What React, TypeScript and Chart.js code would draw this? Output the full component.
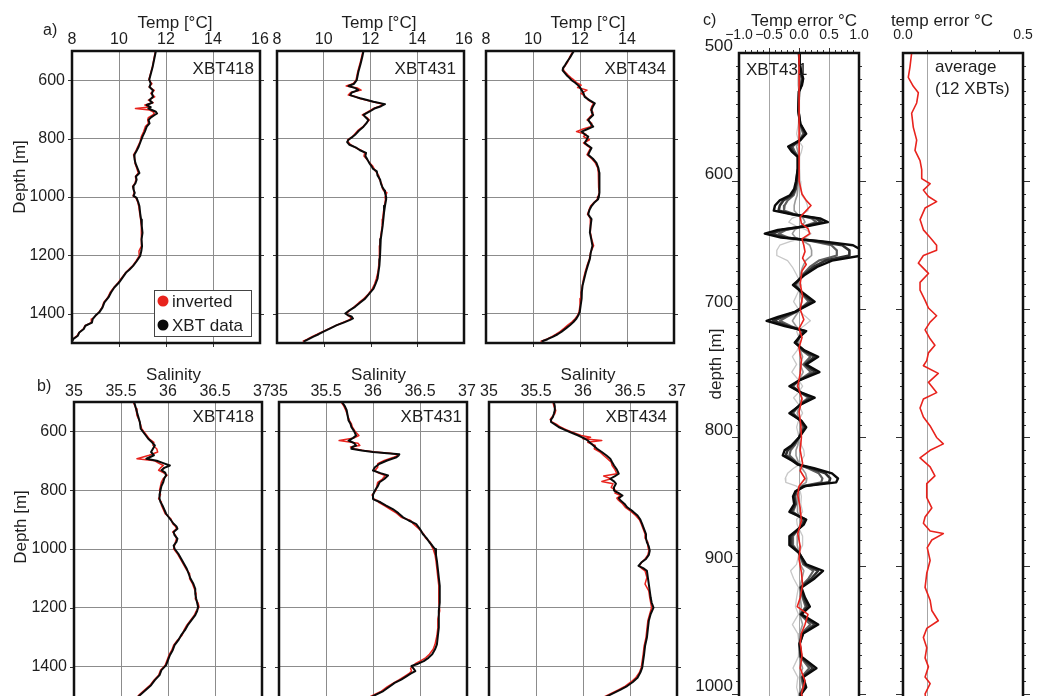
import React, { useEffect, useRef } from 'react';
import { Chart, registerables } from 'chart.js';

Chart.register(...registerables);

const FONT = '"Liberation Sans", Arial, Helvetica, sans-serif';
Chart.defaults.font.family = FONT;

const RED = '#e8231d';
const BLACK = '#0a0a0a';
const GRID = '#8c8c8c';
const GRID_C = '#a6a6a6';
const TEXT = '#1e1e1e';

// ---------------- tick values / labels ----------------
const tempTicks = [8, 10, 12, 14, 16];
const salTicks = [35, 35.5, 36, 36.5, 37];
const depthTicks = [600, 800, 1000, 1200, 1400];
const errTicks = [-1.0, -0.9, -0.8, -0.7, -0.6, -0.5, -0.4, -0.3, -0.2, -0.1, 0, 0.1, 0.2, 0.3, 0.4, 0.5, 0.6, 0.7, 0.8, 0.9, 1.0];
const errMajor = [-1.0, -0.5, 0, 0.5, 1.0];
const errLabels = ['−1.0', '−0.5', '0.0', '0.5', '1.0'];
const avgTicks = [0, 0.1, 0.2, 0.3, 0.4, 0.5];
const avgMajor = [0, 0.5];
const avgLabels = ['0.0', '0.5'];
const errDepthLabels = [500, 600, 700, 800, 900, 1000];
const errDepthTicks = [500, 510, 520, 530, 540, 550, 560, 570, 580, 590, 600, 610, 620, 630, 640, 650, 660, 670, 680, 690, 700, 710, 720, 730, 740, 750, 760, 770, 780, 790, 800, 810, 820, 830, 840, 850, 860, 870, 880, 890, 900, 910, 920, 930, 940, 950, 960, 970, 980, 990, 1000, 1010];

// ---------------- a) temperature profiles ----------------
const a1Depth = [500, 555, 598, 612, 623, 635, 645, 657, 668, 677, 685, 692, 697, 702, 708, 714, 720, 728, 736, 748, 759, 776, 793, 810, 827, 842, 856, 870, 884, 900, 918, 930, 941, 953, 964, 975, 986, 996, 1003, 1018, 1032, 1055, 1077, 1100, 1123, 1145, 1168, 1185, 1202, 1220, 1236, 1248, 1259, 1276, 1293, 1310, 1327, 1344, 1361, 1378, 1395, 1406, 1418, 1430, 1441, 1452, 1464, 1475, 1486, 1495];
const a1Xbt = [11.57, 11.43, 11.29, 11.35, 11.30, 11.45, 11.40, 11.45, 11.30, 11.42, 11.18, 11.35, 11.25, 11.40, 11.57, 11.62, 11.50, 11.35, 11.26, 11.30, 11.18, 11.10, 11.00, 10.92, 10.84, 10.75, 10.65, 10.66, 10.70, 10.78, 10.87, 10.72, 10.75, 10.70, 10.60, 10.62, 10.67, 10.62, 10.75, 10.82, 10.87, 10.90, 10.94, 10.97, 11.00, 10.96, 10.98, 10.95, 10.90, 10.75, 10.60, 10.45, 10.30, 10.15, 10.00, 9.80, 9.66, 9.55, 9.38, 9.30, 9.16, 9.00, 8.88, 8.85, 8.57, 8.50, 8.31, 8.25, 8.06, 8.00];
const a1Inv = [11.55, 11.42, 11.27, 11.40, 11.28, 11.50, 11.35, 11.52, 11.25, 11.45, 11.10, 11.30, 10.70, 11.30, 11.45, 11.50, 11.42, 11.25, 11.22, 11.25, 11.12, 11.05, 10.95, 10.90, 10.80, 10.72, 10.62, 10.68, 10.68, 10.75, 10.82, 10.70, 10.72, 10.68, 10.58, 10.63, 10.64, 10.60, 10.72, 10.80, 10.84, 10.88, 10.92, 10.95, 10.97, 10.94, 10.95, 10.85, 10.86, 10.72, 10.58, 10.42, 10.28, 10.12, 9.97, 9.78, 9.62, 9.52, 9.35, 9.28, 9.14, 9.02, 8.85, 8.82, 8.55, 8.48, 8.30, 8.22, 8.05, 7.98];

const a2Depth = [500, 520, 543, 572, 600, 612, 620, 627, 634, 642, 651, 657, 662, 668, 674, 682, 689, 696, 708, 719, 728, 736, 748, 759, 773, 787, 796, 804, 812, 821, 832, 840, 849, 860, 872, 884, 895, 903, 912, 926, 940, 955, 968, 978, 985, 1000, 1008, 1030, 1053, 1076, 1099, 1121, 1144, 1167, 1189, 1212, 1235, 1257, 1280, 1297, 1314, 1331, 1348, 1362, 1376, 1388, 1399, 1405, 1410, 1416, 1421, 1430, 1439, 1450, 1461, 1470, 1478, 1487, 1495];
const a2Xbt = [11.70, 11.65, 11.58, 11.48, 11.41, 11.30, 11.06, 11.35, 11.48, 11.20, 11.13, 11.35, 11.56, 11.85, 12.13, 12.62, 12.45, 12.20, 11.95, 11.70, 11.80, 11.91, 11.82, 11.70, 11.50, 11.34, 11.20, 11.06, 11.00, 11.10, 11.41, 11.55, 11.81, 11.78, 11.87, 11.95, 12.05, 12.10, 12.27, 12.30, 12.41, 12.45, 12.52, 12.60, 12.62, 12.67, 12.67, 12.62, 12.58, 12.55, 12.52, 12.48, 12.44, 12.42, 12.41, 12.40, 12.38, 12.34, 12.30, 12.22, 12.13, 11.95, 11.77, 11.55, 11.34, 11.10, 10.92, 11.05, 11.20, 11.25, 11.13, 10.85, 10.56, 10.28, 9.99, 9.78, 9.56, 9.35, 9.14];
const a2Inv = [11.68, 11.62, 11.55, 11.45, 11.38, 11.25, 10.96, 11.45, 11.60, 11.15, 11.05, 11.40, 11.50, 11.80, 12.10, 12.55, 12.40, 12.15, 11.90, 11.65, 11.85, 11.95, 11.80, 11.68, 11.45, 11.30, 11.18, 11.02, 11.05, 11.15, 11.38, 11.60, 11.75, 11.72, 11.85, 11.98, 12.10, 12.15, 12.22, 12.35, 12.38, 12.48, 12.50, 12.56, 12.70, 12.62, 12.64, 12.60, 12.55, 12.52, 12.50, 12.46, 12.42, 12.40, 12.38, 12.38, 12.35, 12.32, 12.25, 12.18, 12.08, 11.92, 11.72, 11.50, 11.30, 11.12, 10.98, 11.02, 11.12, 11.18, 11.08, 10.82, 10.55, 10.25, 9.95, 9.72, 9.50, 9.30, 9.10];

const a3Depth = [500, 512, 523, 537, 549, 558, 566, 575, 583, 592, 600, 608, 617, 625, 634, 645, 657, 668, 679, 690, 702, 710, 719, 728, 736, 748, 759, 768, 776, 785, 793, 804, 815, 824, 832, 843, 855, 869, 883, 900, 917, 934, 951, 968, 985, 1000, 1008, 1020, 1031, 1045, 1059, 1068, 1076, 1100, 1121, 1145, 1167, 1190, 1212, 1235, 1257, 1280, 1303, 1325, 1348, 1370, 1393, 1405, 1416, 1428, 1439, 1450, 1461, 1470, 1478, 1487, 1495];
const a3Xbt = [11.74, 11.65, 11.57, 11.45, 11.36, 11.28, 11.26, 11.35, 11.43, 11.55, 11.64, 11.78, 11.92, 12.00, 12.07, 12.15, 12.20, 12.40, 12.63, 12.55, 12.49, 12.50, 12.56, 12.45, 12.35, 12.45, 12.56, 12.30, 12.07, 12.20, 12.35, 12.28, 12.20, 12.35, 12.49, 12.42, 12.35, 12.55, 12.70, 12.78, 12.82, 12.82, 12.82, 12.83, 12.84, 12.80, 12.77, 12.60, 12.49, 12.40, 12.35, 12.42, 12.49, 12.45, 12.42, 12.48, 12.53, 12.46, 12.42, 12.33, 12.25, 12.18, 12.11, 12.08, 12.07, 12.03, 11.99, 11.93, 11.85, 11.72, 11.57, 11.40, 11.22, 11.05, 10.86, 10.62, 10.37];
const a3Inv = [11.72, 11.62, 11.55, 11.48, 11.38, 11.30, 11.30, 11.40, 11.50, 11.62, 11.75, 11.85, 12.05, 11.90, 12.30, 12.05, 12.25, 12.35, 12.58, 12.50, 12.45, 12.55, 12.50, 12.40, 12.30, 12.50, 12.45, 12.10, 11.85, 12.25, 12.15, 12.40, 12.15, 12.30, 12.45, 12.38, 12.30, 12.50, 12.65, 12.75, 12.78, 12.80, 12.78, 12.80, 12.82, 12.76, 12.74, 12.58, 12.45, 12.38, 12.32, 12.40, 12.46, 12.43, 12.45, 12.50, 12.58, 12.45, 12.40, 12.30, 12.22, 12.15, 12.10, 12.05, 12.04, 12.00, 11.96, 11.90, 11.80, 11.65, 11.48, 11.32, 11.15, 10.98, 10.80, 10.58, 10.32];

// ---------------- b) salinity profiles ----------------
const b1Depth = [500, 523, 546, 568, 591, 608, 625, 637, 648, 659, 670, 681, 693, 700, 708, 716, 724, 732, 740, 749, 760, 772, 786, 800, 815, 829, 840, 851, 865, 880, 897, 914, 923, 931, 942, 953, 965, 976, 988, 999, 1016, 1033, 1050, 1067, 1084, 1101, 1118, 1135, 1152, 1169, 1183, 1197, 1211, 1225, 1242, 1259, 1276, 1293, 1310, 1327, 1344, 1361, 1378, 1395, 1412, 1429, 1446, 1463, 1480, 1497, 1510];
const b1Xbt = [35.64, 35.66, 35.68, 35.70, 35.71, 35.75, 35.79, 35.83, 35.86, 35.84, 35.82, 35.85, 35.77, 35.88, 35.95, 36.02, 35.96, 35.93, 35.97, 35.98, 35.96, 35.95, 35.93, 35.92, 35.91, 35.91, 35.92, 35.94, 35.96, 35.98, 36.02, 36.06, 36.09, 36.10, 36.06, 36.07, 36.10, 36.09, 36.06, 36.07, 36.11, 36.14, 36.17, 36.20, 36.22, 36.24, 36.27, 36.29, 36.29, 36.30, 36.31, 36.32, 36.31, 36.29, 36.25, 36.21, 36.18, 36.14, 36.11, 36.07, 36.05, 36.02, 36.00, 35.98, 35.93, 35.91, 35.86, 35.82, 35.76, 35.70, 35.66];
const b1Inv = [35.63, 35.66, 35.67, 35.70, 35.72, 35.76, 35.80, 35.85, 35.84, 35.88, 35.89, 35.80, 35.67, 35.86, 35.90, 35.95, 35.92, 35.90, 35.95, 35.99, 35.95, 35.93, 35.92, 35.91, 35.92, 35.90, 35.93, 35.93, 35.95, 35.97, 36.03, 36.05, 36.08, 36.09, 36.05, 36.08, 36.09, 36.08, 36.07, 36.06, 36.10, 36.13, 36.16, 36.19, 36.23, 36.23, 36.26, 36.28, 36.30, 36.29, 36.32, 36.33, 36.30, 36.28, 36.24, 36.20, 36.17, 36.15, 36.10, 36.06, 36.04, 36.01, 35.99, 35.97, 35.92, 35.90, 35.85, 35.81, 35.75, 35.69, 35.65];

const b2Depth = [500, 514, 528, 546, 563, 574, 585, 600, 614, 622, 631, 640, 648, 653, 659, 665, 670, 674, 678, 683, 688, 699, 710, 722, 733, 742, 750, 762, 773, 787, 801, 816, 830, 836, 841, 852, 864, 878, 892, 903, 915, 932, 949, 963, 977, 988, 1000, 1020, 1040, 1068, 1097, 1125, 1153, 1182, 1210, 1238, 1267, 1295, 1324, 1341, 1358, 1370, 1381, 1390, 1398, 1406, 1415, 1424, 1432, 1444, 1455, 1469, 1483, 1500, 1510];
const b2Xbt = [35.67, 35.70, 35.72, 35.73, 35.74, 35.76, 35.77, 35.80, 35.82, 35.79, 35.74, 35.80, 35.82, 35.78, 35.77, 35.88, 36.00, 36.15, 36.28, 36.27, 36.25, 36.15, 36.07, 36.02, 36.00, 36.08, 36.16, 36.12, 36.07, 36.05, 36.02, 36.00, 36.00, 36.04, 36.08, 36.14, 36.21, 36.27, 36.32, 36.38, 36.46, 36.50, 36.53, 36.57, 36.60, 36.63, 36.66, 36.67, 36.68, 36.69, 36.70, 36.71, 36.71, 36.71, 36.70, 36.70, 36.70, 36.69, 36.68, 36.66, 36.63, 36.59, 36.54, 36.48, 36.41, 36.43, 36.45, 36.40, 36.36, 36.30, 36.23, 36.17, 36.11, 36.00, 35.95];
const b2Inv = [35.66, 35.69, 35.71, 35.73, 35.75, 35.77, 35.78, 35.81, 35.85, 35.80, 35.64, 35.84, 35.86, 35.76, 35.80, 35.90, 36.02, 36.18, 36.25, 36.26, 36.22, 36.12, 36.05, 36.05, 36.02, 36.06, 36.13, 36.10, 36.05, 36.04, 36.03, 35.99, 36.01, 36.05, 36.06, 36.12, 36.18, 36.25, 36.30, 36.40, 36.43, 36.49, 36.54, 36.56, 36.61, 36.62, 36.64, 36.66, 36.67, 36.68, 36.69, 36.70, 36.70, 36.70, 36.71, 36.69, 36.69, 36.68, 36.66, 36.64, 36.60, 36.56, 36.50, 36.45, 36.42, 36.40, 36.41, 36.38, 36.34, 36.28, 36.22, 36.15, 36.09, 35.98, 35.93];

const b3Depth = [500, 514, 528, 540, 551, 560, 568, 576, 585, 594, 602, 614, 620, 625, 631, 637, 648, 659, 670, 682, 693, 705, 716, 730, 744, 752, 761, 770, 778, 790, 801, 810, 818, 827, 835, 846, 858, 872, 886, 900, 915, 932, 949, 963, 977, 991, 1006, 1020, 1034, 1046, 1057, 1065, 1074, 1097, 1119, 1142, 1165, 1182, 1199, 1221, 1244, 1272, 1301, 1330, 1358, 1380, 1403, 1420, 1438, 1452, 1466, 1478, 1489, 1500, 1510];
const b3Xbt = [35.69, 35.70, 35.70, 35.69, 35.68, 35.66, 35.66, 35.70, 35.74, 35.80, 35.86, 35.95, 35.99, 36.02, 36.05, 36.07, 36.11, 36.15, 36.20, 36.25, 36.29, 36.31, 36.33, 36.36, 36.38, 36.34, 36.29, 36.33, 36.35, 36.33, 36.33, 36.38, 36.42, 36.38, 36.40, 36.44, 36.47, 36.53, 36.58, 36.61, 36.63, 36.65, 36.67, 36.67, 36.68, 36.70, 36.71, 36.70, 36.67, 36.62, 36.59, 36.64, 36.68, 36.69, 36.70, 36.71, 36.72, 36.73, 36.75, 36.72, 36.70, 36.69, 36.68, 36.66, 36.65, 36.64, 36.63, 36.61, 36.58, 36.53, 36.47, 36.40, 36.33, 36.26, 36.20];
const b3Inv = [35.68, 35.69, 35.71, 35.70, 35.67, 35.65, 35.67, 35.72, 35.76, 35.82, 35.88, 35.98, 36.08, 36.00, 36.20, 36.05, 36.13, 36.12, 36.18, 36.22, 36.26, 36.30, 36.31, 36.34, 36.36, 36.22, 36.30, 36.20, 36.32, 36.30, 36.35, 36.34, 36.40, 36.36, 36.38, 36.42, 36.45, 36.51, 36.56, 36.60, 36.62, 36.64, 36.66, 36.66, 36.69, 36.69, 36.70, 36.69, 36.66, 36.62, 36.60, 36.62, 36.66, 36.68, 36.66, 36.70, 36.71, 36.72, 36.73, 36.71, 36.69, 36.68, 36.67, 36.65, 36.64, 36.63, 36.62, 36.60, 36.56, 36.51, 36.45, 36.38, 36.31, 36.24, 36.18];

// ---------------- c) temperature error, XBT431 ensemble ----------------
const cDepth = [500, 508, 515, 520, 525, 530, 545, 555, 563, 568, 573, 577, 581, 590, 600, 606, 611, 615, 619, 623, 626, 629, 632, 635, 638, 641, 644, 647, 650, 654, 658, 662, 667, 673, 681, 688, 694, 702, 706, 709, 713, 717, 721, 726, 732, 737, 743, 749, 755, 760, 765, 769, 774, 781, 787, 792, 800, 806, 810, 814, 818, 821, 824, 828, 832, 835, 838, 842, 846, 852, 858, 864, 868, 871, 877, 884, 890, 899, 904, 910, 917, 925, 932, 938, 946, 953, 961, 971, 980, 987, 995, 1000, 1008, 1015];
const cBlack = [0.00, 0.01, 0.04, 0.07, 0.05, 0.00, -0.01, 0.02, 0.12, 0.02, -0.18, -0.12, -0.02, -0.02, -0.05, -0.08, -0.15, -0.32, -0.40, -0.42, -0.10, 0.35, 0.48, 0.15, -0.35, -0.57, -0.30, 0.40, 0.90, 1.05, 1.05, 0.55, 0.30, 0.10, -0.10, 0.09, 0.26, -0.07, -0.35, -0.54, -0.24, 0.12, 0.02, -0.07, 0.09, 0.32, 0.12, 0.34, 0.02, -0.16, 0.04, 0.26, 0.04, -0.16, 0.04, 0.12, 0.00, -0.12, -0.24, -0.27, -0.12, -0.02, 0.25, 0.55, 0.65, 0.62, 0.10, -0.06, -0.10, -0.08, -0.16, 0.12, 0.08, 0.00, -0.16, -0.16, 0.00, 0.12, 0.40, 0.26, 0.04, 0.10, 0.18, 0.04, 0.32, 0.07, 0.01, 0.04, 0.29, 0.07, 0.12, 0.04, 0.03, 0.02];
const cDark = [0, 0.01, 0.03, 0.06, 0.04, 0, -0.01, 0.02, 0.10, 0.02, -0.14, -0.10, -0.02, -0.02, -0.04, -0.06, -0.12, -0.26, -0.32, -0.34, -0.08, 0.28, 0.38, 0.12, -0.28, -0.46, -0.24, 0.32, 0.72, 0.84, 0.84, 0.44, 0.24, 0.08, -0.08, 0.07, 0.21, -0.06, -0.28, -0.43, -0.19, 0.10, 0.02, -0.06, 0.07, 0.26, 0.10, 0.27, 0.02, -0.13, 0.03, 0.21, 0.03, -0.13, 0.03, 0.10, 0, -0.10, -0.19, -0.22, -0.10, -0.02, 0.20, 0.44, 0.52, 0.50, 0.08, -0.05, -0.08, -0.06, -0.13, 0.10, 0.06, 0, -0.13, -0.13, 0, 0.10, 0.32, 0.21, 0.03, 0.08, 0.14, 0.03, 0.26, 0.06, 0.01, 0.03, 0.23, 0.06, 0.10, 0.03, 0.02, 0.02];
const cMid = [0, 0.01, 0.02, 0.04, 0.03, 0, -0.01, 0.01, 0.07, 0.01, -0.11, -0.07, -0.01, -0.01, -0.03, -0.05, -0.09, -0.19, -0.24, -0.25, -0.06, 0.21, 0.29, 0.09, -0.21, -0.34, -0.18, 0.24, 0.54, 0.63, 0.63, 0.33, 0.18, 0.06, -0.06, 0.05, 0.16, -0.04, -0.21, -0.32, -0.14, 0.07, 0.01, -0.04, 0.05, 0.19, 0.07, 0.20, 0.01, -0.10, 0.02, 0.16, 0.02, -0.10, 0.02, 0.07, 0, -0.07, -0.14, -0.16, -0.07, -0.01, 0.15, 0.33, 0.39, 0.37, 0.06, -0.04, -0.06, -0.05, -0.10, 0.07, 0.05, 0, -0.10, -0.10, 0, 0.07, 0.24, 0.16, 0.02, 0.06, 0.11, 0.02, 0.19, 0.04, 0.01, 0.02, 0.17, 0.04, 0.07, 0.02, 0.02, 0.01];
const cLight = [0, 0, 0.01, 0.01, 0.01, 0, 0, 0, 0.02, 0, -0.04, -0.02, 0, 0, -0.01, -0.02, -0.03, -0.06, -0.08, -0.08, -0.02, 0.07, 0.10, 0.03, -0.07, -0.11, -0.06, 0.08, 0.18, 0.21, 0.21, 0.11, 0.06, 0.02, -0.02, 0.02, 0.05, -0.01, -0.07, -0.11, -0.05, 0.02, 0, -0.01, 0.02, 0.06, 0.02, 0.07, 0, -0.03, 0.01, 0.05, 0.01, -0.03, 0.01, 0.02, 0, -0.02, -0.05, -0.05, -0.02, 0, 0.05, 0.11, 0.13, 0.12, 0.02, -0.01, -0.02, -0.02, -0.03, 0.02, 0.02, 0, -0.03, -0.03, 0, 0.02, 0.08, 0.05, 0.01, 0.02, 0.04, 0.01, 0.06, 0.01, 0, 0.01, 0.06, 0.01, 0.02, 0.01, 0.01, 0];
const cPale = [0, 0, -0.01, -0.02, -0.02, 0, 0, -0.01, -0.04, -0.01, 0.06, 0.04, 0.01, 0.01, 0.02, 0.03, 0.05, 0.11, 0.14, 0.15, 0.04, -0.12, -0.17, -0.05, 0.12, 0.20, 0.11, -0.14, -0.32, -0.37, -0.37, -0.19, -0.11, -0.04, 0.04, -0.03, -0.09, 0.02, 0.12, 0.19, 0.08, -0.04, -0.01, 0.02, -0.03, -0.11, -0.04, -0.12, -0.01, 0.06, -0.01, -0.09, -0.01, 0.06, -0.01, -0.04, 0, 0.04, 0.08, 0.09, 0.04, 0.01, -0.09, -0.19, -0.23, -0.22, -0.04, 0.02, 0.04, 0.03, 0.06, -0.04, -0.03, 0, 0.06, 0.06, 0, -0.04, -0.14, -0.09, -0.01, -0.04, -0.06, -0.01, -0.11, -0.02, 0, -0.01, -0.10, -0.02, -0.04, -0.01, -0.01, -0.01];
const cRedDepth = [500, 520, 540, 560, 580, 600, 610, 615, 619, 623, 628, 633, 637, 641, 645, 650, 655, 660, 665, 670, 680, 690, 700, 708, 715, 722, 730, 740, 750, 760, 770, 780, 790, 800, 810, 820, 826, 832, 838, 845, 855, 865, 875, 885, 895, 905, 915, 925, 932, 938, 946, 953, 960, 970, 980, 990, 1000, 1008, 1015];
const cRed = [0.00, 0.00, 0.01, 0.00, 0.00, 0.00, 0.05, 0.12, 0.20, 0.12, 0.02, 0.04, 0.15, 0.18, 0.05, 0.08, 0.10, 0.06, 0.12, 0.05, 0.02, 0.06, 0.02, 0.08, 0.00, 0.05, 0.00, 0.04, 0.02, -0.02, 0.05, 0.00, 0.03, 0.04, 0.02, 0.06, 0.02, 0.10, 0.00, -0.02, 0.02, 0.04, -0.02, 0.02, 0.00, 0.04, 0.06, 0.02, -0.03, 0.15, 0.10, 0.04, 0.02, 0.05, 0.02, 0.10, 0.04, 0.08, 0.05];

// ---------------- c) average temperature error (12 XBTs) ----------------
const c2Depth = [500, 511, 519, 526, 531, 539, 547, 558, 568, 576, 584, 591, 598, 602, 607, 612, 616, 621, 630, 638, 644, 650, 654, 658, 664, 672, 679, 685, 693, 699, 705, 710, 716, 723, 728, 734, 740, 744, 750, 757, 765, 770, 777, 784, 791, 800, 805, 810, 816, 823, 830, 836, 847, 855, 862, 867, 873, 875, 880, 886, 896, 906, 917, 927, 935, 943, 949, 956, 964, 972, 979, 987, 992, 1000, 1010];
const c2Avg = [0.036, 0.029, 0.022, 0.043, 0.064, 0.057, 0.036, 0.043, 0.057, 0.050, 0.071, 0.078, 0.078, 0.113, 0.085, 0.106, 0.140, 0.092, 0.071, 0.085, 0.113, 0.140, 0.140, 0.085, 0.064, 0.106, 0.071, 0.071, 0.092, 0.106, 0.140, 0.113, 0.092, 0.113, 0.133, 0.106, 0.099, 0.085, 0.147, 0.106, 0.140, 0.085, 0.071, 0.085, 0.113, 0.140, 0.168, 0.113, 0.071, 0.113, 0.133, 0.099, 0.099, 0.120, 0.092, 0.085, 0.113, 0.168, 0.120, 0.101, 0.113, 0.099, 0.092, 0.113, 0.120, 0.147, 0.099, 0.085, 0.099, 0.092, 0.106, 0.092, 0.113, 0.092, 0.100];

// ---------------- helpers ----------------
const near = (a: number, b: number) => Math.abs(a - b) < 1e-6;

function line(depth: number[], vals: number[], color: string, width: number, order: number) {
  return {
    data: depth.map((d, i) => ({ x: vals[i], y: d })),
    showLine: true,
    borderColor: color,
    backgroundColor: color,
    borderWidth: width,
    pointRadius: 0,
    pointHoverRadius: 0,
    tension: 0,
    borderJoinStyle: 'round',
    order,
  };
}

type TextItem = { t: string; x: number; y: number; size: number; align?: CanvasTextAlign; rot?: boolean };

type Spec = {
  id: string; ox: number; oy: number; w: number; h: number;
  axisW: number; axisH: number; padR: number; padB: number;
  xMin: number; xMax: number; xTicks: number[]; xLabel: (v: number) => string; xGrid: number[]; xFont: number; xPad: number;
  yMin: number; yMax: number; yTicks: number[]; yLabel: (v: number) => string; yGridShow: boolean; yFont: number; yPad: number; showY: boolean; yLabelOffset: number;
  gridColor: string;
  ext: { left: boolean; right: boolean; top: boolean; bottom: boolean; yLen: (v: number) => number; xLen: (v: number) => number };
  datasets: () => any[];
  texts: TextItem[];
  legend?: boolean;
};

function makeFrame(spec: Spec) {
  return {
    id: 'frame_' + spec.id,
    afterDatasetsDraw(chart: any) {
      const { ctx, chartArea: a } = chart;
      const xs = chart.scales.x;
      const ys = chart.scales.y;
      ctx.save();
      ctx.strokeStyle = '#333';
      ctx.lineWidth = 1;
      ctx.beginPath();
      ys.ticks.forEach((t: any) => {
        const v = t.value;
        if (v <= ys.min + 1e-9 || v >= ys.max - 1e-9) return;
        const p = Math.round(ys.getPixelForValue(v)) + 0.5;
        const L = spec.ext.yLen(v);
        if (spec.ext.left) { ctx.moveTo(a.left - L, p); ctx.lineTo(a.left, p); }
        if (spec.ext.right) { ctx.moveTo(a.right, p); ctx.lineTo(a.right + L, p); }
      });
      xs.ticks.forEach((t: any) => {
        const v = t.value;
        if (v <= xs.min + 1e-9 || v >= xs.max - 1e-9) return;
        const p = Math.round(xs.getPixelForValue(v)) + 0.5;
        const L = spec.ext.xLen(v);
        if (spec.ext.top) { ctx.moveTo(p, a.top - L); ctx.lineTo(p, a.top); }
        if (spec.ext.bottom) { ctx.moveTo(p, a.bottom); ctx.lineTo(p, a.bottom + L); }
      });
      ctx.stroke();
      ctx.lineWidth = 2.5;
      ctx.strokeStyle = '#111';
      ctx.strokeRect(a.left, a.top, a.right - a.left, a.bottom - a.top);

      if (spec.legend) {
        const bx = 154 - spec.ox, by = 290 - spec.oy;
        ctx.fillStyle = '#fff';
        ctx.fillRect(bx, by, 97, 46);
        ctx.lineWidth = 1;
        ctx.strokeStyle = '#444';
        ctx.strokeRect(bx + 0.5, by + 0.5, 97, 46);
        ctx.fillStyle = RED;
        ctx.beginPath(); ctx.arc(163 - spec.ox, 301 - spec.oy, 5.5, 0, Math.PI * 2); ctx.fill();
        ctx.fillStyle = BLACK;
        ctx.beginPath(); ctx.arc(163 - spec.ox, 325 - spec.oy, 5.5, 0, Math.PI * 2); ctx.fill();
        ctx.font = '17px ' + FONT;
        ctx.fillStyle = TEXT;
        ctx.textAlign = 'left';
        ctx.textBaseline = 'alphabetic';
        ctx.fillText('inverted', 172 - spec.ox, 307 - spec.oy);
        ctx.fillText('XBT data', 172 - spec.ox, 331 - spec.oy);
      }

      spec.texts.forEach((tx) => {
        ctx.font = tx.size + 'px ' + FONT;
        ctx.fillStyle = TEXT;
        if (tx.rot) {
          ctx.save();
          ctx.translate(tx.x - spec.ox, tx.y - spec.oy);
          ctx.rotate(-Math.PI / 2);
          ctx.textAlign = 'center';
          ctx.textBaseline = 'middle';
          ctx.fillText(tx.t, 0, 0);
          ctx.restore();
        } else {
          ctx.textAlign = tx.align || 'center';
          ctx.textBaseline = 'alphabetic';
          ctx.fillText(tx.t, tx.x - spec.ox, tx.y - spec.oy);
        }
      });
      ctx.restore();
    },
  };
}

function makeConfig(spec: Spec): any {
  return {
    type: 'scatter',
    data: { datasets: spec.datasets() },
    options: {
      animation: false,
      responsive: false,
      devicePixelRatio: 1,
      events: [],
      layout: { padding: { left: 0, top: 0, right: spec.padR, bottom: spec.padB } },
      plugins: { legend: { display: false }, tooltip: { enabled: false }, title: { display: false } },
      scales: {
        x: {
          type: 'linear',
          position: 'top',
          min: spec.xMin,
          max: spec.xMax,
          afterBuildTicks: (s: any) => { s.ticks = spec.xTicks.map((v) => ({ value: v })); },
          afterFit: (s: any) => { s.height = spec.axisH; },
          ticks: {
            autoSkip: false, maxRotation: 0, minRotation: 0,
            padding: spec.xPad, color: TEXT, font: { size: spec.xFont },
            callback: (v: number) => spec.xLabel(v),
          },
          grid: {
            drawTicks: false,
            lineWidth: 1,
            color: (c: any) => (c.tick && spec.xGrid.some((g) => near(g, c.tick.value)) ? spec.gridColor : 'rgba(0,0,0,0)'),
          },
          border: { display: false },
        },
        y: {
          type: 'linear',
          position: 'left',
          reverse: true,
          min: spec.yMin,
          max: spec.yMax,
          afterBuildTicks: (s: any) => { s.ticks = spec.yTicks.map((v) => ({ value: v })); },
          afterFit: (s: any) => { s.width = spec.axisW; },
          ticks: {
            display: spec.showY, autoSkip: false,
            padding: spec.yPad, color: TEXT, font: { size: spec.yFont },
            labelOffset: spec.yLabelOffset,
            callback: (v: number) => spec.yLabel(v),
          },
          grid: { display: spec.yGridShow, drawTicks: false, color: spec.gridColor, lineWidth: 1 },
          border: { display: false },
        },
      },
    },
    plugins: [makeFrame(spec)],
  };
}

const extAB = { left: true, right: true, top: false, bottom: true, yLen: () => 4, xLen: () => 4 };
const extC = {
  left: true, right: true, top: true, bottom: false,
  yLen: (v: number) => (errDepthLabels.some((m) => near(m, v)) ? 7 : 3),
  xLen: (v: number) => (errMajor.some((m) => near(m, v)) ? 5 : 3),
};
const extC2 = {
  left: true, right: true, top: true, bottom: false,
  yLen: (v: number) => (errDepthLabels.some((m) => near(m, v)) ? 7 : 3),
  xLen: () => 3,
};

function profile(o: {
  id: string; ox: number; oy: number; w: number; h: number; axisW: number; axisH: number;
  isTemp: boolean; showY: boolean; hideLast?: boolean; yMax: number;
  depth: number[]; xbt: number[]; inv: number[]; texts: TextItem[]; legend?: boolean; xPad: number;
}): Spec {
  const ticks = o.isTemp ? tempTicks : salTicks;
  return {
    id: o.id, ox: o.ox, oy: o.oy, w: o.w, h: o.h, axisW: o.axisW, axisH: o.axisH, padR: 14, padB: 18,
    xMin: ticks[0], xMax: ticks[ticks.length - 1], xTicks: ticks,
    xLabel: (v) => (o.hideLast && near(v, ticks[ticks.length - 1]) ? '' : String(v)),
    xGrid: ticks.slice(1, ticks.length - 1), xFont: 16, xPad: o.xPad,
    yMin: 500, yMax: o.yMax, yTicks: depthTicks, yLabel: (v) => String(v), yGridShow: true,
    yFont: 16, yPad: 7, showY: o.showY, yLabelOffset: 0,
    gridColor: GRID, ext: extAB,
    datasets: () => [line(o.depth, o.inv, RED, 1.5, 1), line(o.depth, o.xbt, BLACK, 2, 0)],
    texts: o.texts, legend: o.legend,
  };
}

const specs: Spec[] = [
  profile({
    id: 'a1', ox: 0, oy: 0, w: 274, h: 361, axisW: 72, axisH: 51, isTemp: true, showY: true, yMax: 1500,
    depth: a1Depth, xbt: a1Xbt, inv: a1Inv, legend: true, xPad: 2,
    texts: [
      { t: 'a)', x: 43, y: 35, size: 16, align: 'left' },
      { t: 'Temp [°C]', x: 175, y: 28, size: 17 },
      { t: 'Depth [m]', x: 20, y: 177, size: 17, rot: true },
      { t: 'XBT418', x: 254, y: 74, size: 17, align: 'right' },
    ],
  }),
  profile({
    id: 'a2', ox: 257, oy: 0, w: 221, h: 361, axisW: 20, axisH: 51, isTemp: true, showY: false, yMax: 1500,
    depth: a2Depth, xbt: a2Xbt, inv: a2Inv, xPad: 2,
    texts: [
      { t: 'Temp [°C]', x: 379, y: 28, size: 17 },
      { t: 'XBT431', x: 456, y: 74, size: 17, align: 'right' },
    ],
  }),
  profile({
    id: 'a3', ox: 466, oy: 0, w: 222, h: 361, axisW: 20, axisH: 51, isTemp: true, showY: false, hideLast: true, yMax: 1500,
    depth: a3Depth, xbt: a3Xbt, inv: a3Inv, xPad: 2,
    texts: [
      { t: 'Temp [°C]', x: 588, y: 28, size: 17 },
      { t: 'XBT434', x: 666, y: 74, size: 17, align: 'right' },
    ],
  }),
  profile({
    id: 'b1', ox: 0, oy: 350, w: 276, h: 367, axisW: 74, axisH: 52, isTemp: false, showY: true, yMax: 1510,
    depth: b1Depth, xbt: b1Xbt, inv: b1Inv, xPad: 1,
    texts: [
      { t: 'b)', x: 37, y: 391, size: 16, align: 'left' },
      { t: 'Salinity', x: 173.5, y: 380, size: 17 },
      { t: 'Depth [m]', x: 21, y: 527, size: 17, rot: true },
      { t: 'XBT418', x: 254, y: 422, size: 17, align: 'right' },
    ],
  }),
  profile({
    id: 'b2', ox: 259, oy: 350, w: 222, h: 367, axisW: 20, axisH: 52, isTemp: false, showY: false, yMax: 1510,
    depth: b2Depth, xbt: b2Xbt, inv: b2Inv, xPad: 1,
    texts: [
      { t: 'Salinity', x: 378.5, y: 380, size: 17 },
      { t: 'XBT431', x: 462, y: 422, size: 17, align: 'right' },
    ],
  }),
  profile({
    id: 'b3', ox: 469, oy: 350, w: 222, h: 367, axisW: 20, axisH: 52, isTemp: false, showY: false, yMax: 1510,
    depth: b3Depth, xbt: b3Xbt, inv: b3Inv, xPad: 1,
    texts: [
      { t: 'Salinity', x: 588, y: 380, size: 17 },
      { t: 'XBT434', x: 667, y: 422, size: 17, align: 'right' },
    ],
  }),
  {
    id: 'c1', ox: 690, oy: 0, w: 189, h: 731, axisW: 49, axisH: 53, padR: 20, padB: 18,
    xMin: -1, xMax: 1, xTicks: errTicks,
    xLabel: (v) => { const i = errMajor.findIndex((m) => near(m, v)); return i >= 0 ? errLabels[i] : ''; },
    xGrid: [-0.5, 0, 0.5], xFont: 14, xPad: 9,
    yMin: 500, yMax: 1015, yTicks: errDepthTicks,
    yLabel: (v) => (errDepthLabels.some((m) => near(m, v)) ? String(v) : ''),
    yGridShow: false, yFont: 17, yPad: 6, showY: true, yLabelOffset: -7,
    gridColor: GRID_C, ext: extC,
    datasets: () => [
      line(cDepth, cPale, '#c8c8c8', 1.3, 6),
      line(cDepth, cLight, '#9a9a9a', 1.6, 5),
      line(cDepth, cMid, '#5e5e5e', 2.2, 4),
      line(cDepth, cDark, '#303030', 2.6, 3),
      line(cDepth, cBlack, BLACK, 2.4, 2),
      line(cRedDepth, cRed, RED, 1.6, 1),
    ],
    texts: [
      { t: 'c)', x: 703, y: 25, size: 16, align: 'left' },
      { t: 'Temp error °C', x: 804, y: 26, size: 17 },
      { t: 'depth [m]', x: 716, y: 364, size: 17, rot: true },
      { t: 'XBT431', x: 746, y: 75, size: 17, align: 'left' },
    ],
  },
  {
    id: 'c2', ox: 883, oy: 0, w: 160, h: 731, axisW: 20, axisH: 53, padR: 20, padB: 18,
    xMin: 0, xMax: 0.5, xTicks: avgTicks,
    xLabel: (v) => { const i = avgMajor.findIndex((m) => near(m, v)); return i >= 0 ? avgLabels[i] : ''; },
    xGrid: [0.1], xFont: 14, xPad: 9,
    yMin: 500, yMax: 1015, yTicks: errDepthTicks, yLabel: () => '',
    yGridShow: false, yFont: 17, yPad: 6, showY: false, yLabelOffset: 0,
    gridColor: GRID_C, ext: extC2,
    datasets: () => [line(c2Depth, c2Avg, RED, 1.6, 0)],
    texts: [
      { t: 'temp error °C', x: 942, y: 26, size: 17 },
      { t: 'average', x: 935, y: 72, size: 17, align: 'left' },
      { t: '(12 XBTs)', x: 935, y: 94, size: 17, align: 'left' },
    ],
  },
];

function Panel({ spec }: { spec: Spec }) {
  const ref = useRef<HTMLCanvasElement>(null);
  useEffect(() => {
    const chart = new Chart(ref.current as HTMLCanvasElement, makeConfig(spec));
    return () => chart.destroy();
  }, [spec]);
  return (
    <canvas
      ref={ref}
      width={spec.w}
      height={spec.h}
      style={{ position: 'absolute', left: spec.ox, top: spec.oy, width: spec.w, height: spec.h }}
    />
  );
}

export default function App() {
  return (
    <div
      style={{
        position: 'fixed', left: 0, top: 0, width: 1038, height: 696,
        overflow: 'hidden', background: '#ffffff',
      }}
    >
      {specs.map((s) => (
        <Panel key={s.id} spec={s} />
      ))}
    </div>
  );
}
